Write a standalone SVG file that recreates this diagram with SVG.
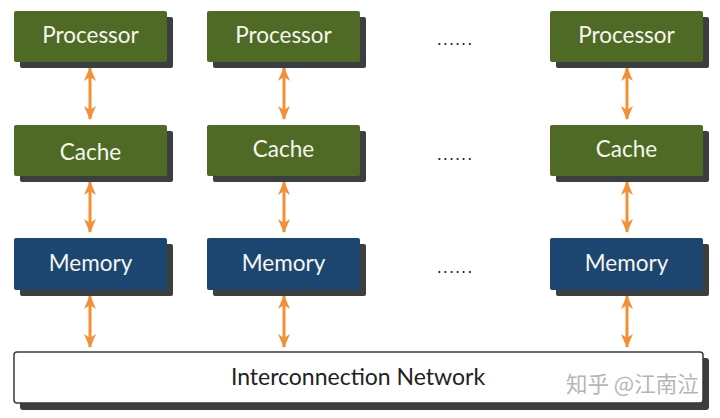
<svg xmlns="http://www.w3.org/2000/svg" width="720" height="418" viewBox="0 0 720 418">
<style>
.sh{fill:#3c3f41}
.g{fill:#4e6a25}
.b{fill:#1c4670}
.lbl{font-family:Lato,"Noto Sans",sans-serif;font-size:22.5px;fill:#f6f6ee;text-anchor:middle}
.net{fill:#ffffff;stroke:#3a3a3a;stroke-width:1.5}
.nl{font-family:Lato,"Noto Sans",sans-serif;font-size:23px;fill:#222;text-anchor:middle}
.dots{font-family:"DejaVu Sans",sans-serif;font-size:16px;letter-spacing:1px;fill:#222;text-anchor:middle}
.c{stroke:#f39035;stroke-width:3;fill:none;marker-start:url(#a);marker-end:url(#a)}
.wm{font-family:"Noto Sans CJK SC",sans-serif;font-size:21.5px;fill:#b5b5b5}
</style>
<defs>
<marker id="a" viewBox="0 0 14 12" refX="13" refY="6" markerWidth="14" markerHeight="12" markerUnits="userSpaceOnUse" orient="auto-start-reverse">
<path d="M0,0 L14,6 L0,12 L4,6 Z" fill="#f39035"/>
</marker>
</defs>
<rect width="720" height="418" fill="#ffffff"/>
<g id="connectors">
<line class="c" x1="90" y1="68" x2="90" y2="119"/>
<line class="c" x1="90" y1="182" x2="90" y2="232"/>
<line class="c" x1="90" y1="296" x2="90" y2="347"/>
<line class="c" x1="284" y1="68" x2="284" y2="119"/>
<line class="c" x1="284" y1="182" x2="284" y2="232"/>
<line class="c" x1="284" y1="296" x2="284" y2="347"/>
<line class="c" x1="627" y1="68" x2="627" y2="119"/>
<line class="c" x1="627" y1="182" x2="627" y2="232"/>
<line class="c" x1="627" y1="296" x2="627" y2="347"/>
</g>
<g id="proc1"><rect class="sh" x="20" y="17" width="153" height="51" rx="2"/><rect class="g" x="14" y="11" width="153" height="51" rx="2"/><text class="lbl" x="90.5" y="43">Processor</text></g>
<g id="proc2"><rect class="sh" x="213" y="17" width="153" height="51" rx="2"/><rect class="g" x="207" y="11" width="153" height="51" rx="2"/><text class="lbl" x="283.5" y="43">Processor</text></g>
<g id="proc3"><rect class="sh" x="556" y="17" width="153" height="51" rx="2"/><rect class="g" x="550" y="11" width="153" height="51" rx="2"/><text class="lbl" x="626.5" y="43">Processor</text></g>
<g id="cache1"><rect class="sh" x="20" y="131" width="153" height="51" rx="2"/><rect class="g" x="14" y="125" width="153" height="51" rx="2"/><text class="lbl" x="90.5" y="160">Cache</text></g>
<g id="cache2"><rect class="sh" x="213" y="131" width="153" height="51" rx="2"/><rect class="g" x="207" y="125" width="153" height="51" rx="2"/><text class="lbl" x="283.5" y="157">Cache</text></g>
<g id="cache3"><rect class="sh" x="556" y="131" width="153" height="51" rx="2"/><rect class="g" x="550" y="125" width="153" height="51" rx="2"/><text class="lbl" x="626.5" y="157">Cache</text></g>
<g id="mem1"><rect class="sh" x="20" y="244" width="153" height="52" rx="2"/><rect class="b" x="14" y="238" width="153" height="52" rx="2"/><text class="lbl" x="90.5" y="271">Memory</text></g>
<g id="mem2"><rect class="sh" x="213" y="244" width="153" height="52" rx="2"/><rect class="b" x="207" y="238" width="153" height="52" rx="2"/><text class="lbl" x="283.5" y="271">Memory</text></g>
<g id="mem3"><rect class="sh" x="556" y="244" width="153" height="52" rx="2"/><rect class="b" x="550" y="238" width="153" height="52" rx="2"/><text class="lbl" x="626.5" y="271">Memory</text></g>
<g id="dots">
<text class="dots" x="455" y="45">......</text>
<text class="dots" x="455" y="160">......</text>
<text class="dots" x="455" y="273">......</text>
</g>
<g id="network"><rect class="sh" x="20" y="358" width="689" height="52" rx="3"/><rect class="net" x="14" y="352" width="689" height="51" rx="3"/><text class="nl" x="358" y="385">Interconnection Network</text></g>
<text class="wm" x="566" y="392">知乎 @江南泣</text>
</svg>
